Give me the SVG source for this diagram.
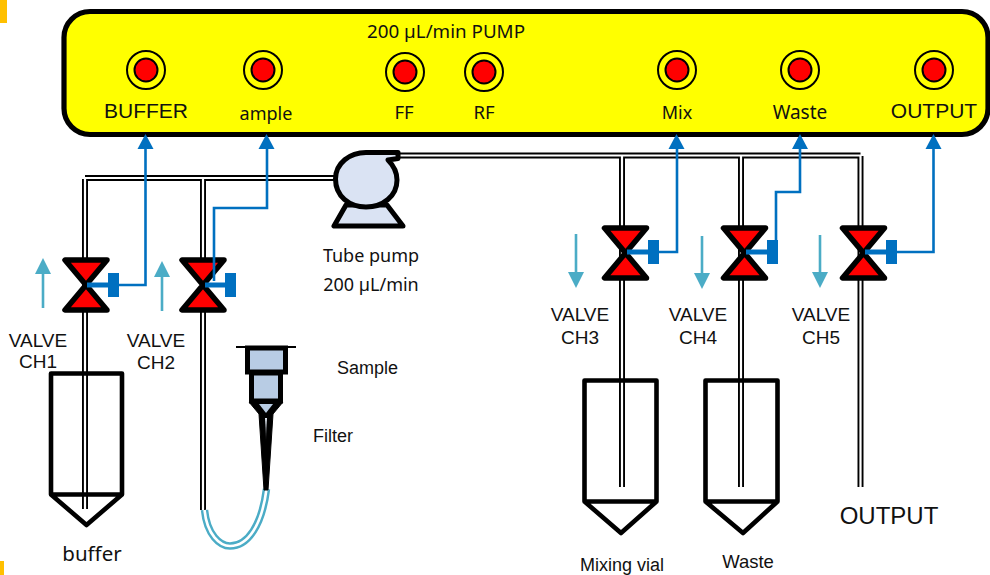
<svg xmlns="http://www.w3.org/2000/svg" width="990" height="575" viewBox="0 0 990 575">
<style>
.s{font-family:"Liberation Sans",Arial,sans-serif;fill:#111}
.n{font-family:"Noto Sans","Open Sans",sans-serif;fill:#111}
.m{text-anchor:middle}
.port1{fill:none;stroke:#000;stroke-width:2}
.port2{fill:#f00;stroke:#000;stroke-width:2}
.to{fill:none;stroke:#000;stroke-width:6}
.ti{fill:none;stroke:#fff;stroke-width:2.2}
.valve{fill:#f00;stroke:#000;stroke-width:5.5;stroke-linejoin:round}
.blue{fill:none;stroke:#0070C0;stroke-width:2.6}
.act{fill:none;stroke:#0070C0;stroke-width:5}
.bf{fill:#0070C0}
.cy{fill:none;stroke:#4BACC6;stroke-width:2.6}
.cf{fill:#4BACC6}
.vial{fill:none;stroke:#000;stroke-width:4.6;stroke-linejoin:round}
</style>
<defs>
<linearGradient id="streak" x1="0" y1="0" x2="0" y2="1"><stop offset="0" stop-color="#e8f0fa"/><stop offset="1" stop-color="#000"/></linearGradient>
<g id="valveShape"><path class="valve" d="M-21,-25H21L-21,25H21Z"/></g>
<g id="port"><circle class="port1" r="19"/><circle class="port2" r="11.5"/></g>
</defs>
<rect x="0" y="0" width="7" height="23" fill="#FFC000"/>
<rect x="0" y="561" width="4" height="14" fill="#FFC000"/>

<g id="pump-board">
<rect x="64" y="11.500" width="924" height="123" rx="26" fill="#ff0" stroke="#000" stroke-width="5.200"/>
<text class="n m" x="446" y="38" font-size="18.800">200 µL/min PUMP</text>
<use href="#port" x="146" y="70"/><text class="s m" x="146" y="118" font-size="21">BUFFER</text>
<use href="#port" x="263" y="70"/><text class="n m" x="266" y="120" font-size="18">ample</text>
<use href="#port" x="405" y="72"/><text class="n m" x="404" y="119" font-size="18.500">FF</text>
<use href="#port" x="484" y="72"/><text class="n m" x="484" y="119" font-size="18.500">RF</text>
<use href="#port" x="677" y="70"/><text class="n m" x="677" y="119" font-size="18">Mix</text>
<use href="#port" x="800" y="70"/><text class="n m" x="800" y="119" font-size="19">Waste</text>
<use href="#port" x="934" y="70"/><text class="s m" x="934" y="118" font-size="21">OUTPUT</text>
</g>

<g id="connectors">
<path class="to" d="M85,178H340M85,179V509M203,179V510M398,155.500H860.500M622,156V487M741,156V487M860.500,156V487"/>
<path class="ti" d="M85,178H340M85,177V509M203,179V510M398,155.500H860.500M622,156V487M741,156V487M860.500,154.500V487"/>
<path fill="none" stroke="#4BACC6" stroke-width="7.500" d="M204.500,510C207,535 220,546 230,546C248,546 262,525 266.500,489"/>
<path fill="none" stroke="#fff" stroke-width="2.600" d="M204.500,510C207,535 220,546 230,546C248,546 262,525 266.500,489"/>
<path class="cy" d="M43,308V272"/><path class="cf" d="M43,258L51,274H35Z"/>
<path class="cy" d="M162,311V275"/><path class="cf" d="M162,261L170,277H154Z"/>
<path class="cy" d="M576,234V274"/><path class="cf" d="M576,288L584,272H568Z"/>
<path class="cy" d="M702,236V275"/><path class="cf" d="M702,289L710,273H694Z"/>
<path class="cy" d="M820,235V274"/><path class="cf" d="M820,288L828,272H812Z"/>
</g>

<g id="valve-ch1"><use href="#valveShape" x="86" y="285"/><path class="act" d="M87,285H108"/><rect class="bf" x="108" y="273" width="11" height="24"/>
<text class="s m" x="38" y="347" font-size="19">VALVE</text><text class="s m" x="38" y="368" font-size="19">CH1</text></g>
<g id="valve-ch2"><use href="#valveShape" x="203" y="285"/><path class="act" d="M205,285H226"/><rect class="bf" x="225" y="273" width="11" height="24"/>
<text class="s m" x="156" y="347" font-size="19">VALVE</text><text class="s m" x="156" y="369" font-size="19">CH2</text></g>
<g id="valve-ch3"><use href="#valveShape" x="625.500" y="253"/><path class="act" d="M627,252H648"/><rect class="bf" x="648" y="240" width="11" height="24"/>
<text class="s m" x="580" y="321" font-size="19">VALVE</text><text class="s m" x="580" y="344" font-size="19">CH3</text></g>
<g id="valve-ch4"><use href="#valveShape" x="744.500" y="253"/><path class="act" d="M746,252H767"/><rect class="bf" x="767" y="240" width="11" height="24"/>
<text class="s m" x="698" y="321" font-size="19">VALVE</text><text class="s m" x="698" y="344" font-size="19">CH4</text></g>
<g id="valve-ch5"><use href="#valveShape" x="863.500" y="253"/><path class="act" d="M865,252H886"/><rect class="bf" x="886" y="240" width="11" height="24"/>
<text class="s m" x="821" y="321" font-size="19">VALVE</text><text class="s m" x="821" y="344" font-size="19">CH5</text></g>

<g id="signal-connectors">
<path class="blue" d="M119,285H145.500V148"/><path class="bf" d="M145.500,134L153.500,149H137.500Z"/>
<path class="blue" d="M214,281V208H267V148"/><path class="bf" d="M266.500,134L274.500,149H258.500Z"/>
<path class="blue" d="M659,252H677V148"/><path class="bf" d="M676.500,134L684.500,149H668.500Z"/>
<path class="blue" d="M776,241V192H800V148"/><path class="bf" d="M800,134L808,149H792Z"/>
<path class="blue" d="M897,252H933.500V148"/><path class="bf" d="M933.500,134L941.500,149H925.500Z"/>
</g>

<g id="tube-pump">
<path d="M346,205L334,226H403L387,205Z" fill="#DAE3F3" stroke="#000" stroke-width="5" stroke-linejoin="round"/>
<path d="M335.500,179C335.500,163 350,152.500 366,152.500H398V158.500L388,160C394,166 397,172 397,180C397,196 383,207 366,207C349,207 335.500,196 335.500,179Z" fill="#DAE3F3" stroke="#000" stroke-width="5" stroke-linejoin="round"/>
<text class="n m" x="371" y="262" font-size="18">Tube pump</text>
<text class="n m" x="371" y="291" font-size="18">200 µL/min</text>
</g>

<g id="filter">
<path d="M249,402H283L273,414L268,490H264L259,414Z" fill="#000" stroke="#000" stroke-linejoin="round"/>
<path d="M236,347H296" stroke="#000" stroke-width="2"/>
<path d="M259,404H273L266,413Z" fill="#B8CCE4"/>
<path d="M265,418H267L266,442Z" fill="url(#streak)"/>
<rect x="247.500" y="348" width="38" height="24" fill="#B8CCE4" stroke="#000" stroke-width="5"/>
<rect x="251.500" y="373" width="29" height="28" fill="#B8CCE4" stroke="#000" stroke-width="5"/>
<text class="s" x="337" y="374" font-size="18">Sample</text>
<text class="s" x="313" y="442" font-size="18">Filter</text>
</g>

<g id="vial-buffer">
<path class="vial" d="M51,373.500H122V494.500H51ZM51,494.500L86.500,525L122,494.500"/>
<text class="n m" x="92" y="561" font-size="20.500">buffer</text>
</g>
<g id="vial-mix">
<path class="vial" d="M584.500,380.500H656.500V501.500H584.500ZM584.500,501.500L621,533L656.500,501.500"/>
<text class="s m" x="622" y="570.500" font-size="18">Mixing vial</text>
</g>
<g id="vial-waste">
<path class="vial" d="M705.500,380.500H777.500V501.500H705.500ZM705.500,501.500L743,533L777.500,501.500"/>
<text class="s m" x="748" y="568" font-size="18.500">Waste</text>
</g>
<text id="output-label" class="s m" x="889" y="524" font-size="24">OUTPUT</text>
</svg>
